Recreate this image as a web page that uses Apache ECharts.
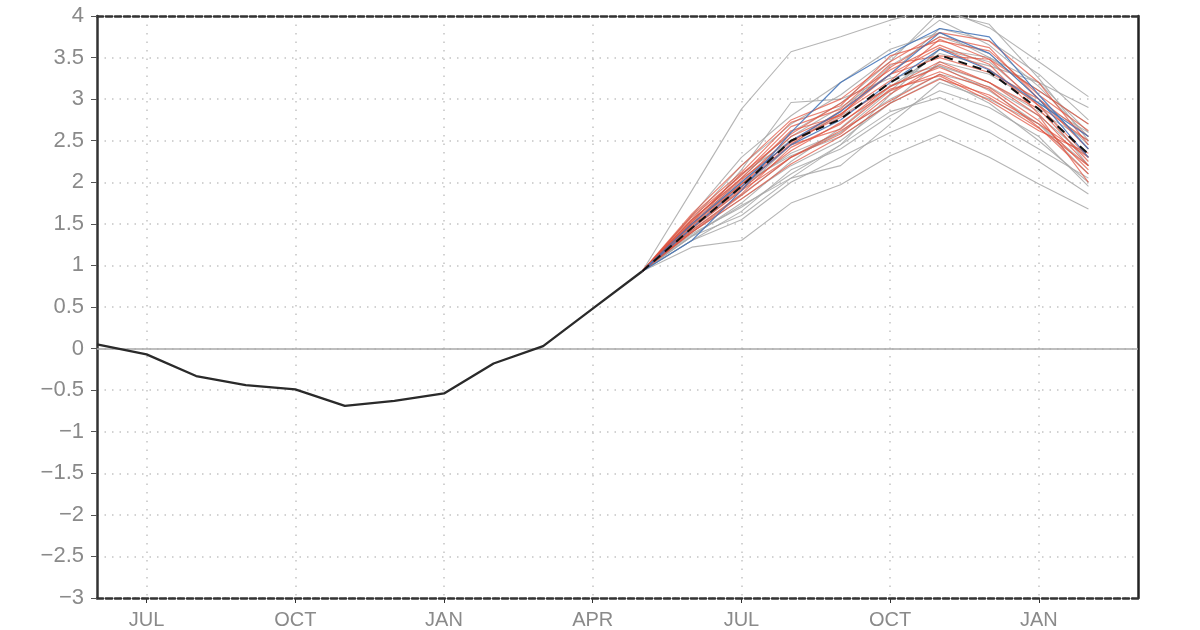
<!DOCTYPE html>
<html><head><meta charset="utf-8">
<script src="https://cdn.jsdelivr.net/npm/echarts@6/dist/echarts.min.js"></script>
<style>html,body{margin:0;padding:0;background:#fff}#c{width:1200px;height:630px}</style>
</head><body><div id="c"></div>
<script>
// Months from JUN (year 1) to MAR (year 3)
const months = ['JUN','JUL','AUG','SEP','OCT','NOV','DEC','JAN','FEB','MAR','APR','MAY',
                'JUN','JUL','AUG','SEP','OCT','NOV','DEC','JAN','FEB','MAR'];
const yTicks = [-3,-2.5,-2,-1.5,-1,-0.5,0,0.5,1,1.5,2,2.5,3,3.5,4];
// Observed: JUN .. MAY
const observed = [0.05,-0.07,-0.33,-0.44,-0.49,-0.69,-0.63,-0.54,-0.18,0.03,0.48,0.93];
// Forecast start index (MAY) and ensemble members MAY .. FEB
const fcStart = 11;
const ensMean = [0.93,1.45,1.95,2.5,2.76,3.2,3.53,3.33,2.88,2.34];
const greyMembers = [
  [0.93,1.9,2.88,3.57,3.75,3.95,4.1,3.86,3.45,3.03],
  [0.93,1.22,1.3,1.75,1.97,2.32,2.57,2.3,1.98,1.68],
  [0.93,1.3,1.55,2.0,2.3,2.6,2.85,2.6,2.25,1.86],
  [0.93,1.45,2.15,2.96,3.0,3.25,3.4,3.2,2.85,2.5],
  [0.93,1.5,1.95,2.35,2.6,3.1,3.6,3.5,3.2,2.6],
  [0.93,1.38,1.7,2.1,2.45,2.85,3.02,2.75,2.4,2.05],
  [0.93,1.55,2.2,2.7,3.05,3.5,3.95,3.65,3.15,2.55],
  [0.93,1.42,1.85,2.3,2.6,3.0,3.3,3.15,2.8,2.3],
  [0.93,1.35,1.6,2.05,2.2,2.7,3.2,3.0,2.7,2.2],
  [0.93,1.6,2.3,2.8,3.2,3.6,3.8,3.5,3.1,2.7],
  [0.93,1.45,1.9,2.45,2.85,3.4,3.75,3.55,3.0,2.45],
  [0.93,1.4,1.8,2.2,2.5,2.95,3.45,3.3,2.95,2.6],
  [0.93,1.5,2.0,2.55,2.9,3.3,3.85,3.7,3.3,2.75],
  [0.93,1.35,1.75,2.25,2.65,3.15,3.4,3.1,2.7,2.1],
  [0.93,1.48,2.05,2.6,2.95,3.45,4.05,3.9,3.25,2.5],
  [0.93,1.3,1.65,2.15,2.4,2.8,3.1,2.9,2.55,1.95],
  [0.93,1.52,2.1,2.5,2.8,3.15,3.55,3.4,3.2,2.9],
  [0.93,1.36,1.72,2.05,2.45,3.05,3.6,3.45,2.95,2.2],
  [0.93,1.44,1.98,2.32,2.55,2.95,3.25,2.95,2.5,2.0]
];
const redMembers = [
  [0.93,1.55,2.05,2.62,2.8,3.38,3.75,3.62,3.0,2.4],
  [0.93,1.5,1.98,2.5,2.78,3.15,3.45,3.2,2.88,2.25],
  [0.93,1.46,1.92,2.38,2.72,3.1,3.33,3.12,2.66,2.1],
  [0.93,1.6,2.12,2.72,2.92,3.52,3.7,3.58,3.05,2.62],
  [0.93,1.4,1.84,2.3,2.62,2.98,3.3,3.02,2.65,2.2],
  [0.93,1.5,1.97,2.46,2.82,3.3,3.62,3.36,2.92,2.5],
  [0.93,1.58,2.08,2.67,2.88,3.42,3.52,3.48,3.1,2.7],
  [0.93,1.44,1.9,2.3,2.58,3.06,3.42,3.2,2.8,2.0],
  [0.93,1.52,2.02,2.55,2.82,3.22,3.72,3.48,2.92,2.3],
  [0.93,1.42,1.86,2.42,2.7,3.16,3.38,3.14,2.74,2.15],
  [0.93,1.55,2.04,2.48,2.86,3.3,3.5,3.32,3.0,2.55],
  [0.93,1.48,1.94,2.45,2.64,3.12,3.28,2.98,2.62,2.35],
  [0.93,1.62,2.2,2.75,3.0,3.45,3.8,3.7,3.2,2.45],
  [0.93,1.4,1.8,2.22,2.55,2.95,3.24,3.05,2.7,2.3],
  [0.93,1.53,2.1,2.58,2.95,3.35,3.65,3.42,2.82,2.2]
];
const blueMembers = [
  [0.93,1.3,1.9,2.6,3.2,3.55,3.85,3.75,3.05,2.4],
  [0.93,1.45,1.95,2.45,2.75,3.2,3.6,3.35,2.95,2.55],
  [0.93,1.5,2.0,2.5,2.85,3.3,3.8,3.55,3.0,2.3]
];

function pad(vals){
  const out = new Array(months.length).fill(null);
  vals.forEach((v,i)=>{ out[fcStart+i]=v; });
  return out;
}
function labelShown(i){ return i%3===1; }
const FONT = 'Liberation Sans';
const series = [];
function member(vals,color,width,opacity){
  series.push({type:'line',data:pad(vals),symbol:'none',silent:true,
    lineStyle:{color:color,width:width,opacity:opacity},z:2});
}
greyMembers.forEach(m=>member(m,'#a8a8a8',1.1,0.85));
redMembers.forEach(m=>member(m,'#e0503c',1.2,0.7));
blueMembers.forEach(m=>member(m,'#3f72b8',1.2,0.85));
series.push({type:'line',data:pad(ensMean),symbol:'none',silent:true,z:4,
  lineStyle:{color:'#111',width:2,type:[9,6]}});
series.push({type:'line',data:observed,symbol:'none',silent:true,z:5,
  lineStyle:{color:'#2a2a2a',width:2.3},
  markLine:{silent:true,symbol:'none',label:{show:false},
    lineStyle:{color:'#a8a8a8',width:1.5,type:'solid'},data:[{yAxis:0}]}});

const chart = echarts.init(document.getElementById('c'),null,{renderer:'canvas'});
chart.setOption({
  animation:false,
  grid:{left:97,right:62,top:16,bottom:27,containLabel:false},
  xAxis:[{
    type:'category',data:months,boundaryGap:false,position:'bottom',
    axisLine:{show:true,onZero:false,lineStyle:{color:'#333',width:2.5,type:[6,3]}},
    axisTick:{show:true,interval:labelShown,length:5,inside:false,lineStyle:{color:'#333',width:1}},
    axisLabel:{interval:labelShown,color:'#8a8a8a',fontFamily:FONT,fontSize:20,margin:12},
    splitLine:{show:true,interval:labelShown,lineStyle:{color:'#c4c4c4',width:1.5,type:[1.5,7]}}
  },{
    type:'category',data:months,boundaryGap:false,position:'top',
    axisLine:{show:true,onZero:false,lineStyle:{color:'#333',width:2.5,type:[6,3]}},
    axisTick:{show:false},axisLabel:{show:false},splitLine:{show:false}
  }],
  yAxis:[{
    type:'value',min:-3,max:4,interval:0.5,position:'left',
    axisLine:{show:true,onZero:false,lineStyle:{color:'#333',width:2.5}},
    axisTick:{show:true,length:6,lineStyle:{color:'#555',width:1}},
    axisLabel:{color:'#8a8a8a',fontFamily:FONT,fontSize:22,margin:13,
      formatter:v=>{const s=String(v);return s.replace('-','\u2212');}},
    splitLine:{show:true,lineStyle:{color:'#c4c4c4',width:1.5,type:[1.5,6]}}
  },{
    type:'value',min:-3,max:4,interval:0.5,position:'right',
    axisLine:{show:true,onZero:false,lineStyle:{color:'#222',width:2.5}},
    axisTick:{show:false},axisLabel:{show:false},splitLine:{show:false}
  }],
  series:series
});
</script></body></html>
